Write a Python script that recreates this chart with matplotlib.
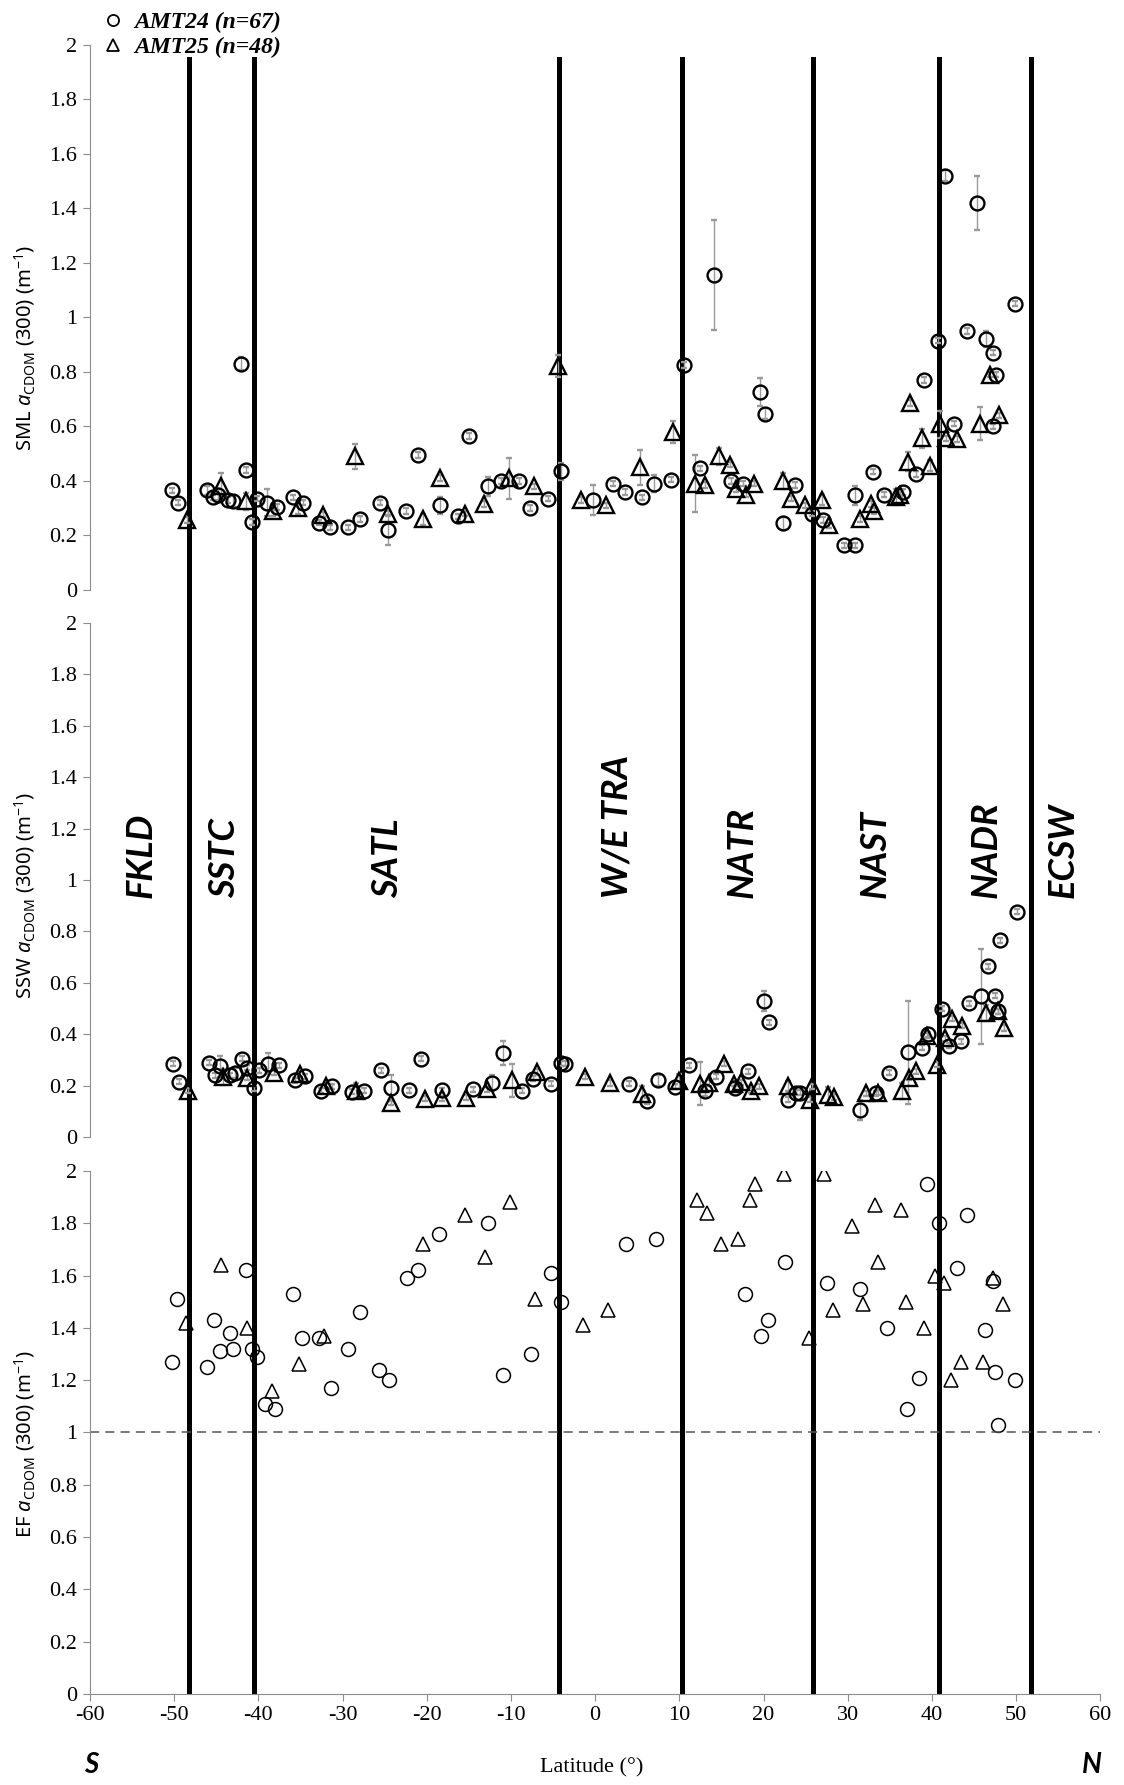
import numpy as np
import matplotlib
matplotlib.use("Agg")
import matplotlib.pyplot as plt
from matplotlib.font_manager import FontProperties
from matplotlib.lines import Line2D

# ---- data ----
# SML a_CDOM(300), AMT24 (circles)
sml24_lat = [-50.3, -49.5, -46.1, -45.4, -44.8, -43.6, -43.0, -42.1, -41.5, -40.7,
             -40.1, -39.0, -37.8, -35.9, -34.7, -32.8, -31.5, -29.3, -27.9, -25.6,
             -24.6, -22.5, -21.0, -18.4, -16.3, -15.0, -12.7, -11.2, -9.05, -7.7,
             -5.6, -4.06, -0.2, 2.15, 3.5, 5.6, 7.0, 9.0, 10.5, 12.5,
             14.15, 16.1, 17.5, 19.6, 20.2, 22.3, 23.7, 25.7, 27.1, 29.5,
             30.9, 30.9, 33.0, 34.3, 36.6, 38.1, 39.0, 40.7, 41.5, 42.6,
             44.1, 45.4, 46.4, 47.2, 47.6, 47.2, 49.8]
sml24_val = [0.365, 0.32, 0.365, 0.34, 0.35, 0.33, 0.326, 0.83, 0.44, 0.25,
             0.335, 0.32, 0.305, 0.34, 0.32, 0.247, 0.23, 0.23, 0.26, 0.32,
             0.22, 0.29, 0.495, 0.31, 0.27, 0.565, 0.38, 0.40, 0.40, 0.30,
             0.335, 0.435, 0.33, 0.39, 0.36, 0.34, 0.39, 0.405, 0.825, 0.446,
             1.155, 0.40, 0.39, 0.726, 0.646, 0.244, 0.385, 0.28, 0.256, 0.163,
             0.163, 0.347, 0.434, 0.35, 0.36, 0.425, 0.77, 0.914, 1.52, 0.61,
             0.95, 1.42, 0.92, 0.87, 0.79, 0.60, 1.05]
sml24_err = [0.01, 0.01, 0.015, 0.01, 0.02, 0.01, 0.02, 0.025, 0.01, 0.01,
             0.01, 0.05, 0.01, 0.01, 0.01, 0.01, 0.01, 0.01, 0.01, 0.01,
             0.055, 0.01, 0.01, 0.03, 0.01, 0.01, 0.035, 0.01, 0.01, 0.01,
             0.01, 0.03, 0.055, 0.01, 0.01, 0.01, 0.03, 0.01, 0.01, 0.01,
             0.2, 0.01, 0.01, 0.05, 0.02, 0.025, 0.01, 0.01, 0.01, 0.01,
             0.01, 0.035, 0.01, 0.01, 0.01, 0.01, 0.01, 0.01, 0.02, 0.01,
             0.01, 0.1, 0.03, 0.01, 0.01, 0.01, 0.01]

# SML a_CDOM(300), AMT25 (triangles)
sml25_lat = [-48.5, -44.4, -41.5, -38.2, -35.3, -32.3, -28.5, -24.6, -20.5, -18.4,
             -15.5, -13.2, -10.2, -7.3, -4.4, -1.7, 1.3, 5.3, 9.3, 11.9,
             13.0, 14.7, 16.0, 16.7, 17.9, 18.9, 22.3, 23.2, 24.9, 26.9,
             27.8, 31.5, 32.7, 33.1, 35.7, 36.2, 37.1, 37.4, 38.8, 39.8,
             40.95, 41.7, 43.0, 45.7, 46.9, 47.9]
sml25_val = [0.256, 0.38, 0.325, 0.29, 0.30, 0.276, 0.49, 0.28, 0.26, 0.41,
             0.28, 0.316, 0.41, 0.38, 0.82, 0.33, 0.31, 0.45, 0.58, 0.39,
             0.385, 0.49, 0.46, 0.37, 0.35, 0.39, 0.40, 0.335, 0.31, 0.33,
             0.237, 0.26, 0.316, 0.29, 0.34, 0.35, 0.47, 0.686, 0.556, 0.455,
             0.607, 0.556, 0.553, 0.61, 0.79, 0.64]
sml25_err = [0.01, 0.05, 0.03, 0.02, 0.02, 0.01, 0.045, 0.01, 0.02, 0.01,
             0.01, 0.01, 0.075, 0.01, 0.04, 0.01, 0.01, 0.065, 0.04, 0.105,
             0.01, 0.03, 0.01, 0.01, 0.01, 0.01, 0.03, 0.01, 0.01, 0.02,
             0.01, 0.01, 0.01, 0.01, 0.03, 0.01, 0.035, 0.01, 0.035, 0.02,
             0.05, 0.01, 0.01, 0.06, 0.01, 0.01]

# SSW a_CDOM(300), AMT24 (circles)
ssw24_lat = [-50.1, -49.4, -45.9, -45.2, -44.5, -43.4, -42.8, -41.9, -41.3, -40.5,
             -39.9, -38.8, -37.6, -35.7, -34.5, -32.6, -31.2, -28.9, -27.5, -25.4,
             -24.2, -22.1, -20.7, -18.2, -14.5, -12.3, -10.9, -8.7, -7.35, -5.2,
             -4.0, -3.6, 4.0, 6.2, 7.5, 9.5, 11.1, 13.0, 14.4, 16.6,
             18.1, 20.05, 20.7, 22.9, 23.9, 24.3, 31.5, 33.35, 34.9, 37.2,
             38.8, 39.5, 41.2, 42.05, 43.45, 44.4, 45.8, 46.7, 47.5, 47.8,
             48.1, 50.05]
ssw24_val = [0.286, 0.215, 0.29, 0.24, 0.275, 0.24, 0.25, 0.305, 0.27, 0.19,
             0.26, 0.286, 0.28, 0.22, 0.237, 0.18, 0.198, 0.176, 0.18, 0.26,
             0.19, 0.182, 0.305, 0.182, 0.185, 0.21, 0.327, 0.18, 0.227, 0.208,
             0.288, 0.285, 0.208, 0.14, 0.22, 0.195, 0.28, 0.18, 0.234, 0.19,
             0.256, 0.53, 0.447, 0.146, 0.172, 0.172, 0.105, 0.17, 0.25, 0.33,
             0.347, 0.40, 0.50, 0.356, 0.373, 0.52, 0.547, 0.664, 0.55, 0.49,
             0.765, 0.877]
ssw24_err = [0.01, 0.01, 0.01, 0.01, 0.04, 0.01, 0.02, 0.01, 0.01, 0.01,
             0.01, 0.04, 0.01, 0.01, 0.01, 0.01, 0.01, 0.01, 0.01, 0.01,
             0.05, 0.01, 0.01, 0.01, 0.01, 0.03, 0.045, 0.01, 0.01, 0.01,
             0.01, 0.01, 0.01, 0.01, 0.02, 0.01, 0.01, 0.02, 0.01, 0.01,
             0.01, 0.04, 0.01, 0.01, 0.01, 0.01, 0.04, 0.01, 0.01, 0.2,
             0.01, 0.01, 0.01, 0.01, 0.01, 0.01, 0.185, 0.01, 0.01, 0.01,
             0.01, 0.01]

# SSW a_CDOM(300), AMT25 (triangles)
ssw25_lat = [-48.3, -44.2, -41.4, -38.1, -35.0, -32.0, -28.4, -24.3, -20.2, -18.2,
             -15.3, -12.8, -9.9, -6.9, -1.2, 1.76, 5.6, 9.9, 12.4, 13.55,
             15.3, 16.5, 17.3, 18.5, 19.45, 22.85, 25.5, 25.8, 27.7, 28.4,
             32.2, 33.6, 36.4, 37.3, 38.1, 39.45, 40.6, 41.55, 42.4, 43.6,
             46.4, 47.8, 48.55]
ssw25_val = [0.18, 0.233, 0.23, 0.25, 0.245, 0.20, 0.18, 0.133, 0.149, 0.15,
             0.153, 0.185, 0.22, 0.253, 0.234, 0.21, 0.168, 0.217, 0.208, 0.21,
             0.286, 0.208, 0.213, 0.18, 0.198, 0.198, 0.146, 0.198, 0.163, 0.156,
             0.17, 0.172, 0.179, 0.23, 0.256, 0.394, 0.282, 0.385, 0.46, 0.433,
             0.483, 0.49, 0.424]
ssw25_err = [0.01, 0.03, 0.01, 0.01, 0.01, 0.01, 0.03, 0.01, 0.01, 0.01,
             0.01, 0.01, 0.065, 0.01, 0.01, 0.01, 0.03, 0.03, 0.085, 0.01,
             0.01, 0.01, 0.01, 0.01, 0.01, 0.02, 0.01, 0.01, 0.03, 0.01,
             0.01, 0.01, 0.03, 0.01, 0.01, 0.01, 0.01, 0.01, 0.01, 0.01,
             0.03, 0.01, 0.01]

# Enrichment factor, AMT24 (circles)
ef24_lat = [-50.3, -49.7, -46.1, -45.3, -44.6, -43.4, -43.0, -41.5, -40.8, -40.1,
            -39.2, -38.0, -35.9, -34.8, -32.8, -31.4, -29.3, -27.9, -25.7, -24.5,
            -22.4, -21.0, -18.5, -12.7, -11.0, -7.6, -5.3, -4.1, 3.7, 7.2,
            17.8, 19.7, 20.5, 22.6, 27.5, 31.4, 34.7, 37.0, 38.5, 39.4,
            40.8, 43.0, 44.1, 46.3, 47.2, 47.5, 47.8, 49.8]
ef24_val = [1.27, 1.51, 1.25, 1.43, 1.31, 1.38, 1.32, 1.62, 1.32, 1.29,
            1.11, 1.09, 1.53, 1.36, 1.36, 1.17, 1.32, 1.46, 1.24, 1.20,
            1.59, 1.62, 1.76, 1.80, 1.22, 1.30, 1.61, 1.50, 1.72, 1.74,
            1.53, 1.37, 1.43, 1.65, 1.57, 1.55, 1.40, 1.09, 1.21, 1.95,
            1.80, 1.63, 1.83, 1.39, 1.58, 1.23, 1.03, 1.20]

# Enrichment factor, AMT25 (triangles)
ef25_lat = [-48.6, -44.4, -41.4, -38.4, -35.2, -32.2, -20.4, -15.5, -13.1, -10.1,
            -7.1, -1.4, 1.5, 12.1, 13.3, 15.0, 17.0, 18.4, 19.0, 22.4,
            25.4, 27.2, 28.2, 30.5, 31.8, 33.2, 33.6, 36.3, 36.9, 39.0,
            40.3, 41.4, 42.2, 43.4, 46.1, 47.2, 48.4]
ef25_val = [1.42, 1.64, 1.40, 1.16, 1.26, 1.37, 1.72, 1.83, 1.67, 1.88,
            1.51, 1.41, 1.47, 1.89, 1.84, 1.72, 1.74, 1.89, 1.95, 1.99,
            1.36, 1.99, 1.47, 1.79, 1.49, 1.87, 1.65, 1.85, 1.50, 1.40,
            1.60, 1.57, 1.20, 1.27, 1.27, 1.59, 1.49]

# province boundaries and names
bounds = [-48.2, -40.5, -4.3, 10.3, 25.9, 40.8, 51.8]
prov_names = ["FKLD", "SSTC", "SATL", "W/E TRA", "NATR", "NAST", "NADR", "ECSW"]
prov_lat = [-53.9, -44.0, -24.6, 2.6, 17.5, 33.2, 46.4, 55.6]

# ---- style ----
serif = "Liberation Serif"
sans = "Noto Sans"
gray = "#8c8c8c"

plt.rcParams["font.family"] = serif
plt.rcParams["axes.unicode_minus"] = False
plt.rcParams["mathtext.fontset"] = "custom"
plt.rcParams["mathtext.rm"] = sans
plt.rcParams["mathtext.it"] = sans + ":italic"

fig = plt.figure(figsize=(11.24, 17.85), dpi=100)
L, W = 0.080, 0.899

# overlay axis for the province boundary lines (spans all panels)
ov = fig.add_axes([L, 0.051, W, 0.968 - 0.051])
ov.set_xlim(-60, 60)
ov.set_ylim(0, 1)
ov.axis("off")
for b in bounds:
    ov.axvline(b, color="black", lw=3.6)

ax1 = fig.add_axes([L, 0.6695, W, 0.3055])
ax2 = fig.add_axes([L, 0.363, W, 0.288])
ax3 = fig.add_axes([L, 0.051, W, 0.293])

ylabels = [r"SML $\mathit{a}_{\mathrm{CDOM}}$ (300) (m$^{-1}$)",
           r"SSW $\mathit{a}_{\mathrm{CDOM}}$ (300) (m$^{-1}$)",
           r"EF $\mathit{a}_{\mathrm{CDOM}}$ (300) (m$^{-1}$)"]
ylab_pos = [0.444, 0.47, 0.478]

for ax, lab, yp in zip([ax1, ax2, ax3], ylabels, ylab_pos):
    ax.set_facecolor("none")
    ax.set_xlim(-60, 60)
    ax.set_ylim(0, 2)
    ax.set_yticks(np.arange(0, 2.01, 0.2))
    ax.set_yticklabels(["0", "0.2", "0.4", "0.6", "0.8", "1", "1.2", "1.4", "1.6", "1.8", "2"])
    for s in ["top", "right"]:
        ax.spines[s].set_visible(False)
    ax.spines["left"].set_color(gray)
    ax.spines["bottom"].set_color(gray)
    ax.tick_params(axis="both", direction="out", length=5, color=gray,
                   labelsize=16, pad=4)
    ax.set_ylabel(lab, fontsize=14.5, fontfamily=sans)
    ax.yaxis.set_label_coords(-0.052, yp)

for ax in [ax1, ax2]:
    ax.spines["bottom"].set_visible(False)
    ax.set_xticks([])

ax3.set_xticks(np.arange(-60, 61, 10))

ebkw = dict(ecolor="#9a9a9a", elinewidth=1.0, capsize=2, capthick=1.0,
            mfc="none", mec="black", linestyle="none")

ax1.errorbar(sml24_lat, sml24_val, yerr=sml24_err, marker="o", ms=10, mew=1.7, **ebkw)
ax1.errorbar(sml25_lat, sml25_val, yerr=sml25_err, marker="^", ms=11, mew=1.7, **ebkw)

ax2.errorbar(ssw24_lat, ssw24_val, yerr=ssw24_err, marker="o", ms=10, mew=1.7, **ebkw)
ax2.errorbar(ssw25_lat, ssw25_val, yerr=ssw25_err, marker="^", ms=11, mew=1.7, **ebkw)

ax3.plot(ef24_lat, ef24_val, "o", ms=10, mfc="none", mec="black", mew=1.1)
ax3.plot(ef25_lat, ef25_val, "^", ms=10, mfc="none", mec="black", mew=1.1)
ax3.axhline(1, color="#555555", lw=1.1, ls=(0, (6, 4)))

# province names
for name, x in zip(prov_names, prov_lat):
    ax2.text(x, 0.93, name, rotation=90, rotation_mode="anchor", ha="left",
             va="center", fontsize=26, fontweight="bold", fontstyle="italic",
             fontfamily="Lato")

# legend
leg_font = FontProperties(family=serif, style="italic", weight="bold", size=17)
handles = [Line2D([], [], marker="o", ls="none", ms=8, mfc="none", mec="black", mew=1.3),
           Line2D([], [], marker="^", ls="none", ms=8, mfc="none", mec="black", mew=1.3)]
fig.legend(handles, ["AMT24 (n=67)", "AMT25 (n=48)"], loc="upper left",
           bbox_to_anchor=(0.083, 1.0), frameon=False, prop=leg_font,
           handlelength=0.7, handletextpad=0.55, labelspacing=0.15, borderpad=0)

fig.text(0.081, 0.0112, "S", fontsize=20, fontweight="bold", fontstyle="italic",
         fontfamily="Lato", ha="center", va="center")
fig.text(0.971, 0.0112, "N", fontsize=20, fontweight="bold", fontstyle="italic",
         fontfamily="Lato", ha="center", va="center")
fig.text(0.526, 0.0095, "Latitude (°)", fontsize=16, fontfamily=serif,
         ha="center", va="center")

fig.savefig("out.png", dpi=100)
